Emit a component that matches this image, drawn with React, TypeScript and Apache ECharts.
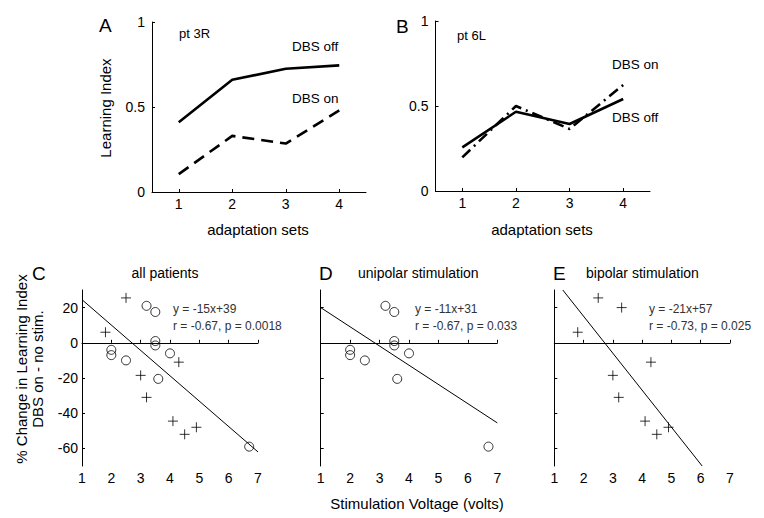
import React, { useEffect, useRef } from "react";
import * as echarts from "echarts";

// Panels A/B: learning index per adaptation set
const adaptationSets = [1, 2, 3, 4];
const aDbsOff = [0.41, 0.66, 0.725, 0.745];
const aDbsOn = [0.105, 0.33, 0.285, 0.48];
const bDbsOff = [0.257, 0.466, 0.394, 0.541];
const bDbsOn = [0.198, 0.5, 0.365, 0.624];

// Panels C/D/E: % change vs stimulation voltage
const uniVolt = [3.2, 3.5, 3.5, 3.5, 2, 2, 2.5, 4, 3.6, 6.7];
const uniChange = [21, 17.5, 1, -1.5, -4, -7, -10, -6, -20.5, -59];
const cBiVolt = [2.5, 1.8, 4.3, 3, 3.2, 4.1, 4.5, 4.9];
const cBiChange = [25.5, 6, -11, -18.5, -31, -44.5, -52, -48];
const eBiVolt = [2.5, 3.3, 1.8, 4.3, 3, 3.2, 4.1, 4.5, 4.9];
const eBiChange = [25.5, 20, 6, -11, -18.5, -31, -44.5, -52, -48];

// Regression line endpoints
const regCx = [1, 7];
const regCy = [24.5, -62];
const regDx = [1, 7];
const regDy = [20, -45.5];
const regEx = [1.29, 6.05];
const regEy = [30, -70];

const topXTicks = [1, 2, 3, 4];
const topYTicks = [0, 0.5, 1];
const botYTicks = [-60, -40, -20, 0, 20];

const FONT = "Liberation Sans, Arial, sans-serif";
const pairs = (xs: number[], ys: number[]) => xs.map((x, i) => [x, ys[i]]);
const PLUS = "path://M0,5L10,5M5,0L5,10";

export default function App() {
  const ref = useRef<HTMLDivElement>(null);
  useEffect(() => {
    if (!ref.current) return;
    const chart = echarts.init(ref.current, null, { renderer: "svg" });
    const axisLine = { show: true, lineStyle: { color: "#000", width: 1 } };
    const label = { color: "#000", fontSize: 14, fontFamily: FONT };

    const topX = (g: number) => ({
      type: "value",
      gridIndex: g,
      min: 0.5,
      max: 4.5,
      axisLine,
      splitLine: { show: false },
      axisTick: { show: true, inside: true, length: 3, customValues: topXTicks, lineStyle: { color: "#000" } },
      axisLabel: { ...label, margin: 5, customValues: topXTicks },
    });
    const topY = (g: number) => ({
      type: "value",
      gridIndex: g,
      min: 0,
      max: 1,
      axisLine,
      splitLine: { show: false },
      axisTick: { show: true, inside: true, length: 3, customValues: topYTicks, lineStyle: { color: "#000" } },
      axisLabel: { ...label, margin: 7, customValues: topYTicks },
    });
    const botX = (g: number) => ({
      type: "value",
      gridIndex: g,
      min: 1,
      max: 7,
      interval: 1,
      axisLine,
      splitLine: { show: false },
      axisTick: { show: true, inside: true, length: 3, lineStyle: { color: "#000" } },
      axisLabel: { ...label, margin: 5 },
    });
    const botY = (g: number, showLabel: boolean) => ({
      type: "value",
      gridIndex: g,
      min: -70,
      max: 30,
      axisLine,
      splitLine: { show: false },
      axisTick: { show: true, inside: true, length: 3, customValues: botYTicks, lineStyle: { color: "#000" } },
      axisLabel: { ...label, show: showLabel, margin: 4, customValues: botYTicks },
    });

    const lineS = (g: number, ys: number[], type: any, name: string) => ({
      type: "line",
      name,
      xAxisIndex: g,
      yAxisIndex: g,
      data: pairs(adaptationSets, ys),
      symbol: "none",
      lineStyle: { color: "#000", width: 2.6, type },
    });
    const circles = (g: number) => ({
      type: "scatter",
      name: "unipolar",
      xAxisIndex: g,
      yAxisIndex: g,
      data: pairs(uniVolt, uniChange),
      symbol: "circle",
      symbolSize: 9,
      itemStyle: { color: "rgba(0,0,0,0)", borderColor: "#000", borderWidth: 1 },
    });
    const plus = (g: number, xs: number[], ys: number[]) => ({
      type: "scatter",
      name: "bipolar",
      xAxisIndex: g,
      yAxisIndex: g,
      data: pairs(xs, ys),
      symbol: PLUS,
      symbolSize: 10,
      itemStyle: { color: "rgba(0,0,0,0)", borderColor: "#000", borderWidth: 1 },
    });
    const reg = (g: number, xs: number[], ys: number[]) => ({
      type: "line",
      name: "fit",
      xAxisIndex: g,
      yAxisIndex: g,
      data: pairs(xs, ys),
      symbol: "none",
      lineStyle: { color: "#000", width: 1 },
    });

    const txt = (text: string, x: number, y: number, size: number, align = "left", extra: any = {}) => ({
      type: "text",
      x,
      y,
      ...extra,
      style: {
        text,
        fontSize: size,
        fontFamily: FONT,
        fill: extra.fill || "#000",
        align,
        verticalAlign: "middle",
      },
    });
    const rot = (text: string, x: number, y: number, size: number) => ({
      type: "text",
      x,
      y,
      rotation: Math.PI / 2,
      style: { text, fontSize: size, fontFamily: FONT, fill: "#000", align: "center", verticalAlign: "middle" },
    });

    chart.setOption({
      animation: false,
      backgroundColor: "#fff",
      grid: [
        { left: 152, top: 22, width: 214, height: 170 },
        { left: 435.5, top: 21, width: 214.5, height: 170 },
        { left: 82, top: 290, width: 176, height: 176 },
        { left: 320.7, top: 290, width: 176.6, height: 176 },
        { left: 554.3, top: 290, width: 175.7, height: 176 },
      ],
      xAxis: [topX(0), topX(1), botX(2), botX(3), botX(4)],
      yAxis: [topY(0), topY(1), botY(2, true), botY(3, false), botY(4, false)],
      series: [
        lineS(0, aDbsOff, "solid", "DBS off"),
        lineS(0, aDbsOn, [12, 7], "DBS on"),
        lineS(1, bDbsOff, "solid", "DBS off"),
        lineS(1, bDbsOn, [11, 5, 2, 5], "DBS on"),
        reg(2, regCx, regCy),
        circles(2),
        plus(2, cBiVolt, cBiChange),
        reg(3, regDx, regDy),
        circles(3),
        reg(4, regEx, regEy),
        plus(4, eBiVolt, eBiChange),
      ],
      graphic: [
        txt("A", 99, 25, 19),
        txt("pt 3R", 179, 33, 13),
        txt("DBS off", 292, 46, 13.5),
        txt("DBS on", 292, 98, 13.5),
        rot("Learning Index", 105, 108, 15),
        txt("adaptation sets", 258, 229, 15, "center"),
        txt("B", 396, 26, 19),
        txt("pt 6L", 457, 35, 13),
        txt("DBS on", 612, 64, 13.5),
        txt("DBS off", 612, 117, 13.5),
        txt("adaptation sets", 542, 229, 15, "center"),
        txt("C", 32, 273, 19),
        rot("% Change in Learning Index", 21, 369, 15),
        rot("DBS on - no stim.", 37, 369, 15),
        txt("all patients", 165, 273, 14, "center"),
        txt("y = -15x+39", 173, 309, 12, "left", { fill: "#333" }),
        txt("r = -0.67, p = 0.0018", 173, 326, 12, "left", { fill: "#333" }),
        txt("D", 319, 273, 19),
        txt("unipolar stimulation", 358, 273, 14),
        txt("y = -11x+31", 415, 309, 12, "left", { fill: "#333" }),
        txt("r = -0.67, p = 0.033", 415, 326, 12, "left", { fill: "#333" }),
        txt("E", 553, 273, 19),
        txt("bipolar stimulation", 586, 273, 14),
        txt("y = -21x+57", 649, 309, 12, "left", { fill: "#333" }),
        txt("r = -0.73, p = 0.025", 649, 326, 12, "left", { fill: "#333" }),
        txt("Stimulation Voltage (volts)", 417, 503, 15, "center"),
      ],
    });
    return () => chart.dispose();
  }, []);
  return (
    <div
      ref={ref}
      style={{ position: "fixed", left: 0, top: 0, width: 764, height: 518, background: "#fff" }}
    />
  );
}
